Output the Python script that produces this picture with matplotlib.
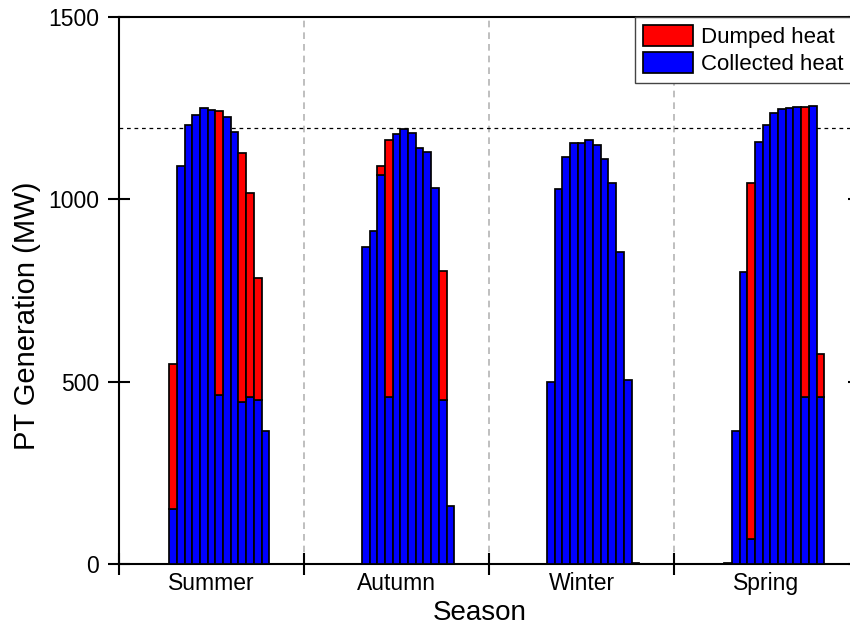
import numpy as np
import matplotlib
matplotlib.use("Agg")
import matplotlib.pyplot as plt

plt.rcParams["font.family"] = ["Liberation Sans", "DejaVu Sans"]

seasons = ["Summer", "Autumn", "Winter", "Spring"]

# hourly heat from the PT field (MW), hours 0..23 of a typical day
summer_collected = [0, 0, 0, 0, 0, 0, 0, 151, 1092, 1204, 1232, 1251,
                    1244, 464, 1226, 1185, 444, 459, 449, 365, 0, 0, 0, 0]
summer_dumped = [0, 0, 0, 0, 0, 0, 0, 398, 0, 0, 0, 0,
                 0, 778, 0, 0, 683, 557, 335, 0, 0, 0, 0, 0]
autumn_collected = [0, 0, 0, 0, 0, 0, 0, 0, 869, 912, 1067, 457,
                    1179, 1192, 1182, 1142, 1130, 1032, 449, 160, 0, 0, 0, 0]
autumn_dumped = [0, 0, 0, 0, 0, 0, 0, 0, 0, 0, 25, 707,
                 0, 0, 0, 0, 0, 0, 355, 0, 0, 0, 0, 0]
winter_collected = [0, 0, 0, 0, 0, 0, 0, 0, 500, 1027, 1115, 1154,
                    1154, 1162, 1150, 1110, 1045, 855, 504, 3, 0, 0, 0, 0]
winter_dumped = [0] * 24
spring_collected = [0, 0, 0, 0, 0, 0, 0, 0, 366, 802, 69, 1157,
                    1205, 1237, 1249, 1250, 1253, 459, 1256, 459, 0, 0, 0, 0]
spring_dumped = [0, 0, 0, 0, 0, 0, 0, 4, 0, 0, 976, 0,
                 0, 0, 0, 0, 0, 794, 0, 118, 0, 0, 0, 0]

pt_limit = 1195  # max heat the plant can take (MW)

collected = np.array(summer_collected + autumn_collected + winter_collected + spring_collected)
dumped = np.array(summer_dumped + autumn_dumped + winter_dumped + spring_dumped)
hours = np.arange(len(collected))

fig = plt.figure(figsize=(8.5, 6.31), dpi=100)
ax = fig.add_axes([119 / 850, 67 / 631, 740 / 850, 547 / 631])

mc = collected > 0
md = dumped > 0
b_col = ax.bar(hours[mc], collected[mc], width=1.0, color="#0000ff",
               edgecolor="black", linewidth=1.25, zorder=3, label="Collected heat")
b_dump = ax.bar(hours[md], dumped[md], bottom=collected[md], width=1.0, color="#ff0000",
                edgecolor="black", linewidth=1.25, zorder=3, label="Dumped heat")

for xd in [24, 48, 72]:
    ax.axvline(xd, color="#b4b4b4", ls=(0, (4, 3)), lw=1.2, zorder=1)
ax.axhline(pt_limit, color="black", ls=(0, (3, 3)), lw=0.9, zorder=1)

ax.set_xlim(0, 96)
ax.set_ylim(0, 1500)
ax.set_xticks([0, 24, 48, 72, 96])
ax.set_xticklabels([])
ax.set_xticks([12, 36, 60, 84], minor=True)
ax.set_xticklabels(seasons, minor=True)
ax.set_yticks([0, 500, 1000, 1500])

ax.tick_params(axis="both", which="major", direction="inout", length=15.8, width=1.5,
               labelsize=16.5, pad=6.5, right=True)
ax.tick_params(axis="x", which="minor", length=0, pad=5.5, labelsize=16.5)
for sp in ax.spines.values():
    sp.set_linewidth(1.5)

ax.set_xlabel("Season", fontsize=20)
ax.set_ylabel("PT Generation (MW)", fontsize=21)
ax.xaxis.set_label_coords(0.487, -0.066)
ax.yaxis.set_label_coords(-0.105, 0.454)

leg = ax.legend(handles=[b_dump, b_col], loc="upper left", bbox_to_anchor=(0.697, 1.0),
                borderaxespad=0, fontsize=16, handlelength=2.25, handleheight=1.08,
                handletextpad=0.4, labelspacing=0.18, borderpad=0.35,
                fancybox=False, framealpha=1)
leg.get_frame().set_edgecolor("#444444")
leg.get_frame().set_linewidth(1.0)

fig.savefig("out.png", dpi=100)
